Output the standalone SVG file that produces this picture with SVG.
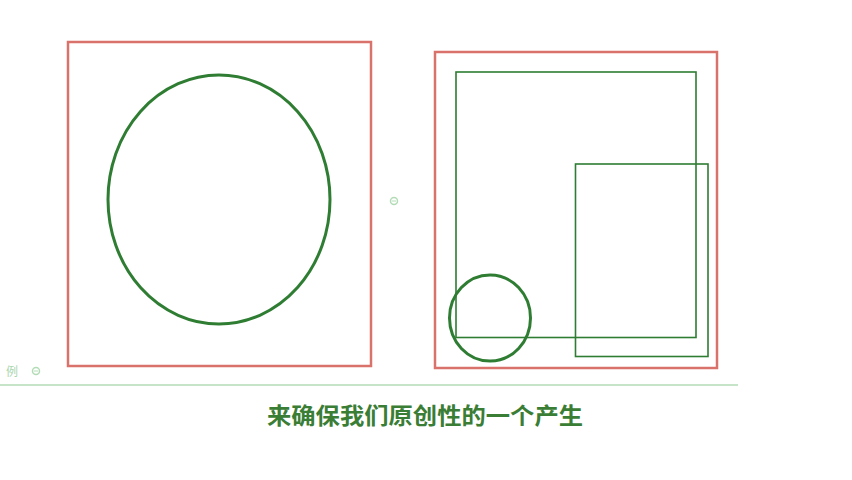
<svg xmlns="http://www.w3.org/2000/svg" width="852" height="480" viewBox="0 0 852 480">
<style>
.red{fill:none;stroke:#d9726a;stroke-width:2.5}
.grn{fill:none;stroke:#2f7d33;stroke-width:1.6}
.thick{fill:none;stroke:#2f7d33;stroke-width:3}
.faint{fill:none;stroke:#b3dcb6;stroke-width:1.5}
.cap{font-family:"Noto Sans CJK SC","Noto Sans",sans-serif;font-weight:bold;font-size:23px;fill:#3a7d35}
.small{font-family:"Noto Sans CJK SC",sans-serif;font-size:12px;fill:#a9d6ad}
</style>
<rect width="852" height="480" fill="#ffffff"/>
<g id="left-frame">
<rect class="red" x="68" y="42" width="303" height="324"/>
</g>
<g id="big-ellipse">
<ellipse class="thick" cx="219" cy="199.5" rx="111" ry="124.5"/>
</g>
<g id="right-frame">
<rect class="red" x="435" y="52" width="282" height="316"/>
</g>
<g id="rect-large">
<rect class="grn" x="456" y="72" width="240" height="265.5"/>
</g>
<g id="rect-small">
<rect class="grn" x="575.5" y="164" width="132.5" height="192.5"/>
</g>
<g id="small-circle">
<ellipse class="thick" cx="490" cy="318" rx="40.5" ry="43"/>
</g>
<g id="connectors"></g>
<g id="decor">
<line x1="0" y1="385" x2="738" y2="385" stroke="#b3dcb6" stroke-width="1.5"/>
<text class="small" x="6" y="376">例</text>
<circle class="faint" cx="36" cy="371" r="3.5"/>
<line x1="34" y1="371" x2="38" y2="371" stroke="#b3dcb6" stroke-width="1"/>
<circle class="faint" cx="394" cy="201" r="3.5"/>
<line x1="392" y1="201" x2="396" y2="201" stroke="#b3dcb6" stroke-width="1"/>
</g>
<g id="caption">
<text class="cap" x="425" y="424" text-anchor="middle" textLength="316" lengthAdjust="spacingAndGlyphs">来确保我们原创性的一个产生</text>
</g>
</svg>
